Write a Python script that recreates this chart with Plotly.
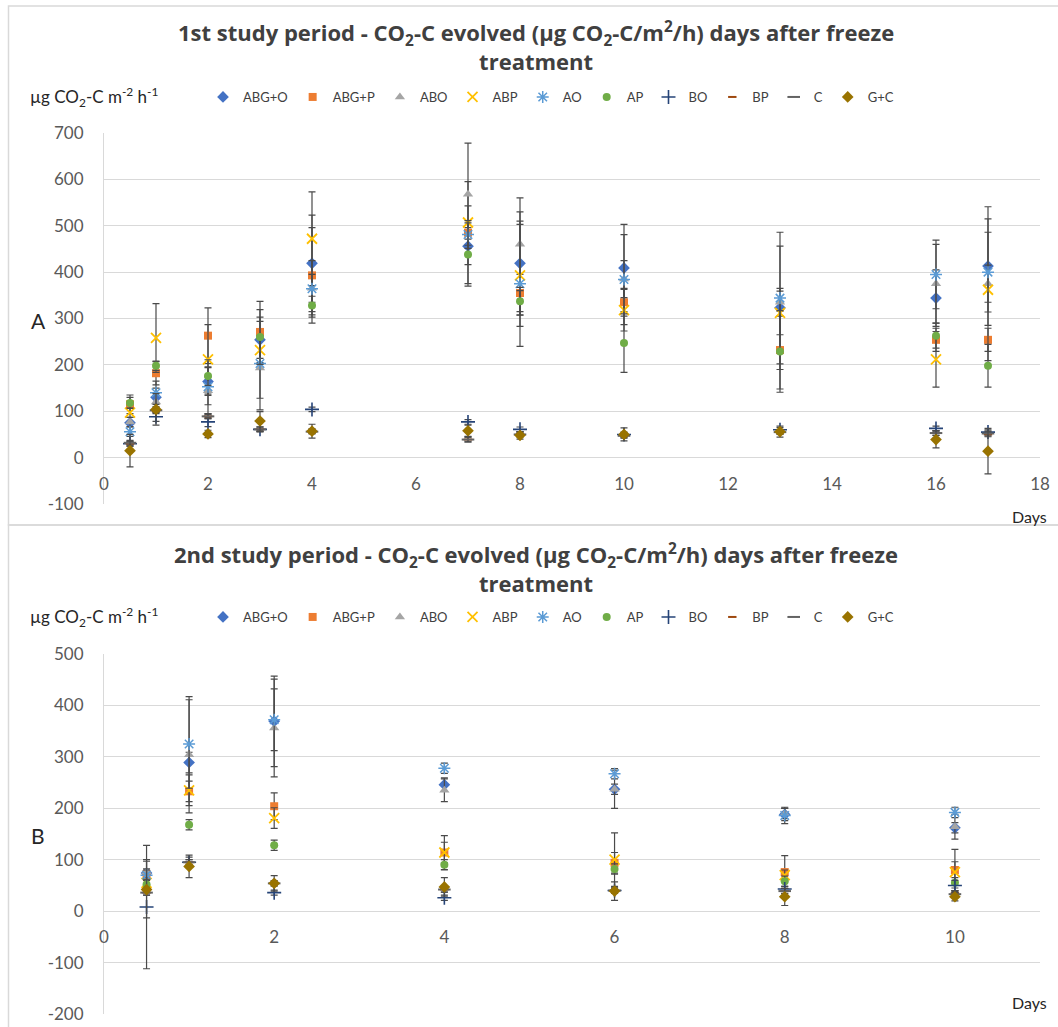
import plotly.graph_objects as go

W, H = 1058, 1027

series_names = ["ABG+O", "ABG+P", "ABO", "ABP", "AO", "AP", "BO", "BP", "C", "G+C"]

# tick labels (plain hyphen minus, as in the reference)
a_yticks = [-100, 0, 100, 200, 300, 400, 500, 600, 700]
b_yticks = [-200, -100, 0, 100, 200, 300, 400, 500]
a_xticks = [0, 2, 4, 6, 8, 10, 12, 14, 16, 18]
b_xticks = [0, 2, 4, 6, 8, 10]

# ---------------- Panel A (1st study period) ----------------
days_a = [0.5, 1, 2, 3, 4, 7, 8, 10, 13, 16, 17]
a_abg_o = [75, 130, 164, 254, 419, 456, 419, 409, 323, 344, 413]
a_abg_p = [115, 182, 263, 271, 393, 485, 355, 335, 232, 254, 254]
a_abo = [77, 120, 144, 193, 365, 568, 460, 385, 335, 375, 375]
a_abp = [97, 258, 212, 232, 472, 507, 393, 318, 312, 212, 362]
a_ao = [56, 140, 153, 203, 364, 481, 375, 384, 344, 395, 400]
a_ap = [118, 198, 176, 260, 328, 438, 337, 247, 229, 263, 198]
a_bo = [30, 88, 77, 61, 104, 77, 61, 50, 60, 63, 55]
a_bp = [30, 100, 89, 61, 57, 39, 50, 48, 56, 53, 50]
a_c = [32, 102, 89, 61, 56, 39, 50, 47, 55, 53, 52]
a_gc = [15, 104, 51, 79, 57, 58, 48, 50, 56, 39, 14]

a_err_abg_o = [0, 20, 30, 40, 104, 40, 111, 94, 133, 61, 128]
a_err_abg_p = [20, 25, 60, 66, 103, 110, 40, 30, 84, 25, 25]
a_err_abo = [10, 20, 30, 65, 30, 110, 100, 40, 30, 85, 40]
a_err_abp = [10, 74, 75, 30, 101, 36, 110, 45, 47, 60, 153]
a_err_ao = [10, 25, 58, 100, 61, 30, 135, 97, 142, 74, 86]
a_err_ap = [12, 10, 20, 59, 20, 68, 30, 63, 88, 27, 46]
a_err_bo = [5, 10, 10, 5, 5, 5, 5, 5, 5, 5, 5]
a_err_bp = [5, 5, 5, 5, 5, 5, 5, 5, 5, 5, 5]
a_err_c = [5, 5, 5, 5, 5, 5, 5, 5, 5, 5, 5]
a_err_gc = [35, 34, 8, 20, 15, 12, 8, 14, 12, 18, 49]

# ---------------- Panel B (2nd study period) ----------------
days_b = [0.5, 1, 2, 4, 6, 8, 10]
b_abg_o = [74, 289, 369, 246, 237, 188, 162]
b_abg_p = [72, 233, 204, 114, 94, 76, 80]
b_abo = [76, 304, 356, 235, 237, 190, 164]
b_abp = [55, 235, 181, 114, 100, 70, 76]
b_ao = [70, 325, 372, 278, 267, 186, 192]
b_ap = [52, 168, 128, 90, 82, 58, 55]
b_bo = [8, 95, 36, 26, 40, 43, 50]
b_bp = [36, 95, 54, 42, 40, 39, 35]
b_c = [36, 95, 54, 42, 40, 39, 33]
b_gc = [42, 87, 54, 47, 39, 28, 28]

b_err_abg_o = [0, 20, 88, 13, 10, 12, 10]
b_err_abg_p = [10, 20, 26, 33, 20, 32, 40]
b_err_abo = [24, 113, 95, 22, 37, 10, 24]
b_err_abp = [10, 30, 20, 20, 52, 10, 20]
b_err_ao = [10, 86, 60, 10, 10, 16, 10]
b_err_ap = [10, 10, 10, 10, 10, 10, 10]
b_err_bo = [120, 10, 5, 5, 5, 5, 10]
b_err_bp = [5, 5, 5, 5, 5, 5, 5]
b_err_c = [5, 5, 5, 5, 5, 5, 5]
b_err_gc = [55, 22, 15, 18, 18, 17, 8]

a_vals = [a_abg_o, a_abg_p, a_abo, a_abp, a_ao, a_ap, a_bo, a_bp, a_c, a_gc]
a_errs = [a_err_abg_o, a_err_abg_p, a_err_abo, a_err_abp, a_err_ao, a_err_ap,
          a_err_bo, a_err_bp, a_err_c, a_err_gc]
b_vals = [b_abg_o, b_abg_p, b_abo, b_abp, b_ao, b_ap, b_bo, b_bp, b_c, b_gc]
b_errs = [b_err_abg_o, b_err_abg_p, b_err_abo, b_err_abp, b_err_ao, b_err_ap,
          b_err_bo, b_err_bp, b_err_c, b_err_gc]

# marker styles (Excel default palette / marker cycle)
styles = [
    dict(symbol="diamond", color="#4472C4", size=9, lw=0),
    dict(symbol="square", color="#ED7D31", size=8, lw=0),
    dict(symbol="triangle-up", color="#A5A5A5", size=9, lw=0),
    dict(symbol="x-thin", color="#FFC000", size=10, lw=1.8),
    dict(symbol="asterisk", color="#5B9BD5", size=10, lw=1.5),
    dict(symbol="circle", color="#70AD47", size=8, lw=0),
    dict(symbol="cross-thin", color="#264478", size=10, lw=1.6),
    dict(symbol="line-ew", color="#9E480E", size=6, lw=2),
    dict(symbol="line-ew", color="#636363", size=9, lw=2),
    dict(symbol="diamond", color="#997300", size=9, lw=0),
]

FONT = "Lato"
TITLE_FONT = "Open Sans"
ERR_COLOR = "#4a4a4a"

fig = go.Figure()


def add_panel(days, vals, errs, xa, ya, legend):
    for name, v, e, st in zip(series_names, vals, errs, styles):
        fig.add_trace(go.Scatter(
            x=days, y=v, mode="markers", name=name,
            xaxis=xa, yaxis=ya, legend=legend,
            marker=dict(symbol=st["symbol"], size=st["size"], color=st["color"],
                        line=dict(color=st["color"], width=st["lw"])),
            error_y=dict(type="data", array=e, visible=True, color=ERR_COLOR,
                         thickness=1.2, width=3.5),
            hoverinfo="x+y+name",
        ))


add_panel(days_a, a_vals, a_errs, "x", "y", "legend")
add_panel(days_b, b_vals, b_errs, "x2", "y2", "legend2")


def py(pix):
    return 1 - pix / H


def px(pix):
    return pix / W


x_dom = [px(104), px(1040)]
ya_dom = [py(504), py(133)]
yb_dom = [py(1014), py(654)]

tick_font = dict(family=FONT, size=17, color="#595959")
grid_c = "#D9D9D9"

# x axes cross at y = 0
ya_zero = ya_dom[0] + (ya_dom[1] - ya_dom[0]) * (100 / 800)
yb_zero = yb_dom[0] + (yb_dom[1] - yb_dom[0]) * (200 / 700)

legend_font = dict(family=FONT, size=13, color="#404040")

fig.update_layout(
    width=W, height=H, autosize=False,
    margin=dict(l=0, r=0, t=0, b=0, pad=0, autoexpand=False),
    paper_bgcolor="white", plot_bgcolor="white",
    font=dict(family=FONT, color="#404040"),
    xaxis=dict(domain=x_dom, range=[0, 18], tickvals=a_xticks,
               ticktext=[str(v) for v in a_xticks], anchor="free",
               position=ya_zero, showgrid=False, zeroline=False, showline=False,
               ticks="", tickfont=tick_font, ticklabelstandoff=14, automargin=False),
    yaxis=dict(domain=ya_dom, range=[-100, 700], tickvals=a_yticks,
               ticktext=[str(v) for v in a_yticks], anchor="x",
               showgrid=True, gridcolor=grid_c, gridwidth=1, zeroline=False,
               showline=True, linecolor=grid_c, linewidth=1, ticks="",
               tickfont=tick_font, ticklabelstandoff=16, automargin=False),
    xaxis2=dict(domain=x_dom, range=[0, 11], tickvals=b_xticks,
                ticktext=[str(v) for v in b_xticks], anchor="free",
                position=yb_zero, showgrid=False, zeroline=False, showline=False,
                ticks="", tickfont=tick_font, ticklabelstandoff=14, automargin=False),
    yaxis2=dict(domain=yb_dom, range=[-200, 500], tickvals=b_yticks,
                ticktext=[str(v) for v in b_yticks], anchor="x2",
                showgrid=True, gridcolor=grid_c, gridwidth=1, zeroline=False,
                showline=True, linecolor=grid_c, linewidth=1, ticks="",
                tickfont=tick_font, ticklabelstandoff=16, automargin=False),
    legend=dict(orientation="h", x=px(203), xanchor="left", y=py(97),
                yanchor="middle", font=legend_font,
                bgcolor="rgba(0,0,0,0)", itemclick=False, itemdoubleclick=False),
    legend2=dict(orientation="h", x=px(203), xanchor="left", y=py(617),
                 yanchor="middle", font=legend_font,
                 bgcolor="rgba(0,0,0,0)", itemclick=False, itemdoubleclick=False),
    showlegend=True,
)

# chart borders (two stacked chart boxes)
border = dict(color="#D9D9D9", width=1.5)
fig.add_shape(type="rect", xref="paper", yref="paper",
              x0=px(8.5), x1=1.02, y0=py(525), y1=py(6), line=border)
fig.add_shape(type="rect", xref="paper", yref="paper",
              x0=px(8.5), x1=1.02, y0=-0.02, y1=py(525), line=border)

title_a = ("<b>1st study period - CO<sub>2</sub>-C evolved (µg CO<sub>2</sub>-C/m<sup>2</sup>/h) "
           "days after freeze</b><br><b>treatment</b>")
title_b = ("<b>2nd study period - CO<sub>2</sub>-C evolved (µg CO<sub>2</sub>-C/m<sup>2</sup>/h) "
           "days after freeze</b><br><b>treatment</b>")
ylab = "µg CO<sub>2</sub>-C m<sup>-2</sup> h<sup>-1</sup>"

annos = [
    dict(text=title_a, x=px(536), y=py(46),
         font=dict(family=TITLE_FONT, size=22, color="#404040")),
    dict(text=title_b, x=px(536), y=py(568),
         font=dict(family=TITLE_FONT, size=22, color="#404040")),
    dict(text=ylab, x=px(28), y=py(97), xanchor="left", font=dict(size=17, color="#262626")),
    dict(text=ylab, x=px(28), y=py(617), xanchor="left", font=dict(size=17, color="#262626")),
    dict(text="A", x=px(38), y=py(321), font=dict(size=21, color="#262626")),
    dict(text="B", x=px(38), y=py(835), font=dict(size=21, color="#262626")),
    dict(text="Days", x=px(1049), y=py(516), xanchor="right", font=dict(size=16, color="#262626")),
    dict(text="Days", x=px(1049), y=py(1002), xanchor="right", font=dict(size=16, color="#262626")),
]
for a in annos:
    base = dict(xref="paper", yref="paper", showarrow=False, yanchor="middle",
                xanchor="center")
    base.update(a)
    f = dict(family=FONT)
    f.update(a["font"])
    base["font"] = f
    fig.add_annotation(**base)

# remove the default page margin so the figure fills the window exactly
fig.write_html(
    "out.html",
    config={"displayModeBar": False},
    post_script="document.body.style.margin='0';document.body.style.overflow='hidden';",
)
